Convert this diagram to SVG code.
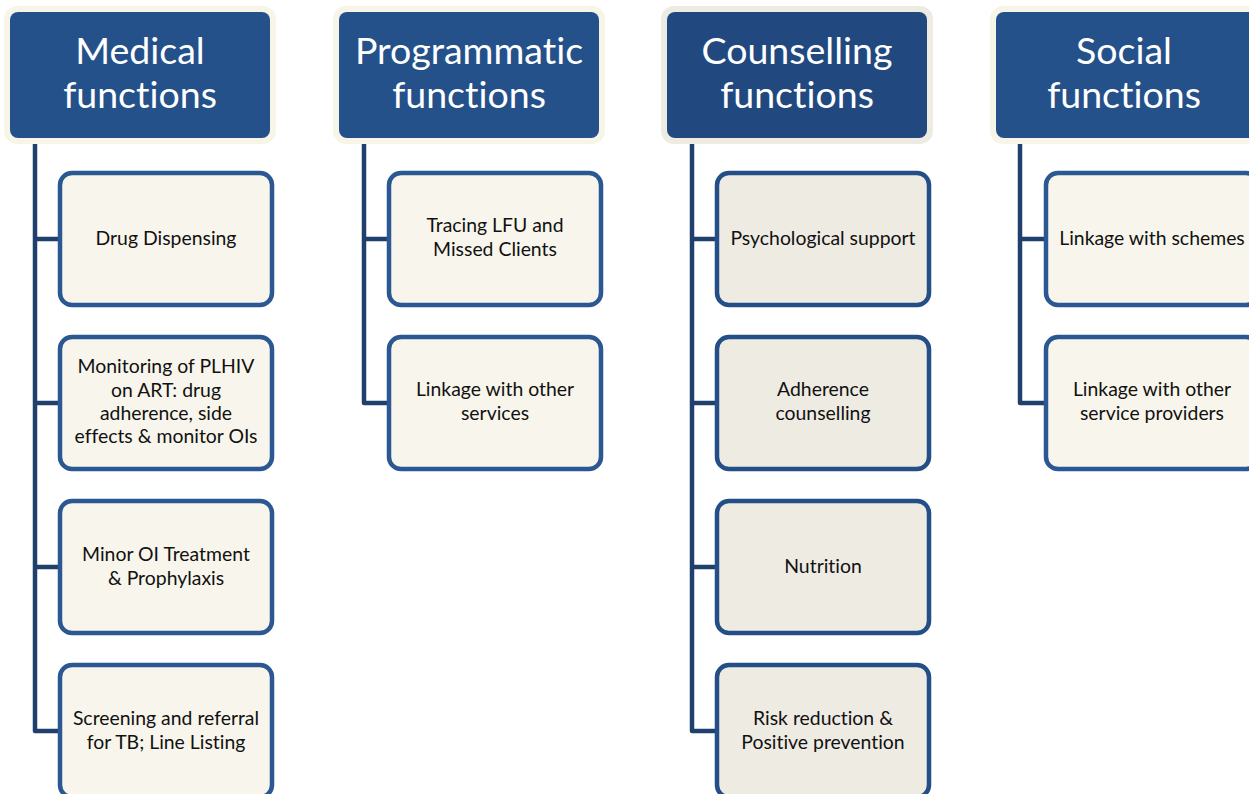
<svg xmlns="http://www.w3.org/2000/svg" width="1249" height="794" viewBox="0 0 1249 794">
<style>
text{font-variant-ligatures:none;font-feature-settings:"liga" 0,"dlig" 0}
.halo{fill:#f7f5e8}
.halo2{fill:#edebe2}
.hdr{fill:#25518b}
.hdr2{fill:#21497f}
.ht{fill:#ffffff;font-family:Lato,"Open Sans",sans-serif;font-size:37.5px;text-anchor:middle}
.box{fill:#f8f6ec;stroke:#2b5793;stroke-width:4.5}
.box2{fill:#eeebe3;stroke:#244e86;stroke-width:4.5}
.bt{fill:#111111;font-family:Lato,"Open Sans",sans-serif;font-size:19.4px;text-anchor:middle}
.con{fill:none;stroke:#1f3f6d;stroke-width:4.5;stroke-linejoin:round}
</style>
<rect width="1249" height="794" fill="#ffffff"/>
<g id="connectors">
<path class="con" d="M35,138 V731 H60 M35,239 H60 M35,403 H60 M35,567 H60"/>
<path class="con" d="M364,138 V403 H389 M364,239 H389"/>
<path class="con" d="M692,138 V731 H717 M692,239 H717 M692,403 H717 M692,567 H717"/>
<path class="con" d="M1020,138 V403 H1046 M1020,239 H1046"/>
</g>
<g id="h-medical">
<rect class="halo" x="4" y="6" width="272" height="138" rx="13"/>
<rect class="hdr" x="10" y="12" width="260" height="126" rx="8"/>
<text class="ht" x="140" y="64">Medical</text>
<text class="ht" x="140" y="108">functions</text>
</g>
<g id="h-programmatic">
<rect class="halo" x="333" y="6" width="272" height="138" rx="13"/>
<rect class="hdr" x="339" y="12" width="260" height="126" rx="8"/>
<text class="ht" x="469" y="64">Programmatic</text>
<text class="ht" x="469" y="108">functions</text>
</g>
<g id="h-counselling">
<rect class="halo2" x="661" y="6" width="272" height="138" rx="13"/>
<rect class="hdr2" x="667" y="12" width="260" height="126" rx="8"/>
<text class="ht" x="797" y="64">Counselling</text>
<text class="ht" x="797" y="108">functions</text>
</g>
<g id="h-social">
<rect class="halo" x="990" y="6" width="272" height="138" rx="13"/>
<rect class="hdr" x="996" y="12" width="260" height="126" rx="8"/>
<text class="ht" x="1124" y="64">Social</text>
<text class="ht" x="1124" y="108">functions</text>
</g>
<g id="m1"><rect class="box" x="60" y="173" width="212" height="132" rx="12"/><text class="bt" x="166" y="245">Drug Dispensing</text></g>
<g id="m2"><rect class="box" x="60" y="337" width="212" height="132" rx="12"/><text class="bt" x="166" y="373">Monitoring of PLHIV</text><text class="bt" x="166" y="397">on ART: drug</text><text class="bt" x="166" y="420">adherence, side</text><text class="bt" x="166" y="443">effects &amp; monitor OIs</text></g>
<g id="m3"><rect class="box" x="60" y="501" width="212" height="132" rx="12"/><text class="bt" x="166" y="561">Minor OI Treatment</text><text class="bt" x="166" y="585">&amp; Prophylaxis</text></g>
<g id="m4"><rect class="box" x="60" y="665" width="212" height="132" rx="12"/><text class="bt" x="166" y="725">Screening and referral</text><text class="bt" x="166" y="749">for TB; Line Listing</text></g>
<g id="p1"><rect class="box" x="389" y="173" width="212" height="132" rx="12"/><text class="bt" x="495" y="232">Tracing LFU and</text><text class="bt" x="495" y="256">Missed Clients</text></g>
<g id="p2"><rect class="box" x="389" y="337" width="212" height="132" rx="12"/><text class="bt" x="495" y="396">Linkage with other</text><text class="bt" x="495" y="420">services</text></g>
<g id="c1"><rect class="box2" x="717" y="173" width="212" height="132" rx="12"/><text class="bt" x="823" y="245">Psychological support</text></g>
<g id="c2"><rect class="box2" x="717" y="337" width="212" height="132" rx="12"/><text class="bt" x="823" y="396">Adherence</text><text class="bt" x="823" y="420">counselling</text></g>
<g id="c3"><rect class="box2" x="717" y="501" width="212" height="132" rx="12"/><text class="bt" x="823" y="573">Nutrition</text></g>
<g id="c4"><rect class="box2" x="717" y="665" width="212" height="132" rx="12"/><text class="bt" x="823" y="725">Risk reduction &amp;</text><text class="bt" x="823" y="749">Positive prevention</text></g>
<g id="s1"><rect class="box" x="1046" y="173" width="212" height="132" rx="12"/><text class="bt" x="1152" y="245">Linkage with schemes</text></g>
<g id="s2"><rect class="box" x="1046" y="337" width="212" height="132" rx="12"/><text class="bt" x="1152" y="396">Linkage with other</text><text class="bt" x="1152" y="420">service providers</text></g>
</svg>
